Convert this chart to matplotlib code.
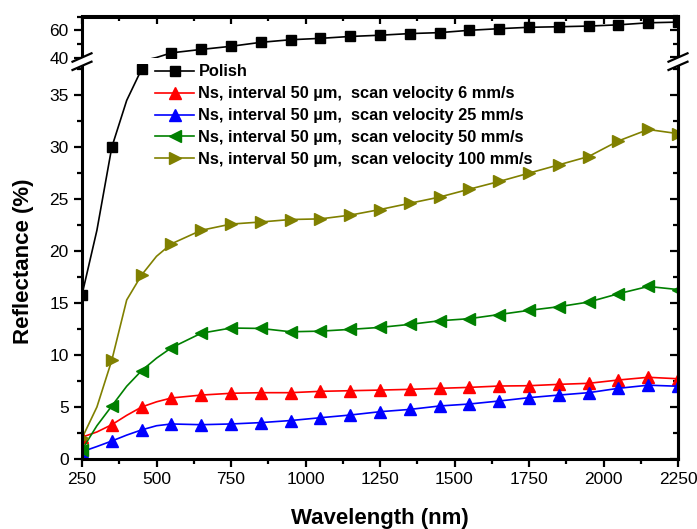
import numpy as np
import matplotlib
matplotlib.use('Agg')
import matplotlib.pyplot as plt
from matplotlib.lines import Line2D
from matplotlib.patches import Polygon
from matplotlib.ticker import MultipleLocator

plt.rcParams['font.family'] = ['Liberation Sans', 'DejaVu Sans']

# wavelength (nm); markers every 100 nm, extra points only for the line
wavelength = [250, 300, 350, 400, 450, 500, 550, 650, 750, 850, 950, 1050, 1150,
              1250, 1350, 1450, 1550, 1650, 1750, 1850, 1950, 2050, 2150, 2250]
marker_idx = [0, 2, 4] + list(range(6, 24))

polish = [15.8, 22.0, 30.0, 34.5, 37.5, 40.0, 43.4, 45.9, 48.2, 51.1, 53.0, 54.0,
          55.4, 56.3, 57.5, 58.2, 59.9, 61.1, 62.1, 62.5, 63.0, 63.9, 65.4, 65.9]
v6 = [2.1, 2.6, 3.3, 4.2, 5.0, 5.5, 5.87, 6.15, 6.32, 6.38, 6.38, 6.51,
      6.57, 6.63, 6.70, 6.80, 6.89, 7.02, 7.05, 7.18, 7.28, 7.6, 7.86, 7.72]
v25 = [0.7, 1.2, 1.73, 2.3, 2.8, 3.2, 3.37, 3.3, 3.37, 3.5, 3.7, 3.97,
       4.23, 4.55, 4.77, 5.1, 5.29, 5.58, 5.9, 6.15, 6.38, 6.8, 7.1, 7.0]
v50 = [0.9, 3.2, 5.1, 7.0, 8.5, 9.7, 10.7, 12.1, 12.6, 12.56, 12.24, 12.3,
       12.47, 12.66, 12.95, 13.3, 13.5, 13.9, 14.3, 14.65, 15.1, 15.9, 16.6, 16.3]
v100 = [2.0, 5.0, 9.5, 15.3, 17.7, 19.5, 20.7, 22.0, 22.6, 22.8, 23.04, 23.1,
        23.46, 24.0, 24.6, 25.2, 25.96, 26.7, 27.5, 28.3, 29.1, 30.6, 31.7, 31.3]

labels = ['Polish',
          'Ns, interval 50 \u00b5m,  scan velocity 6 mm/s',
          'Ns, interval 50 \u00b5m,  scan velocity 25 mm/s',
          'Ns, interval 50 \u00b5m,  scan velocity 50 mm/s',
          'Ns, interval 50 \u00b5m,  scan velocity 100 mm/s']
series = [polish, v6, v25, v50, v100]
colors = ['black', '#ff0000', '#0000ff', '#008000', '#808000']
markers = ['s', '^', '^', '<', '>']
msizes = [7, 8.5, 8.5, 8.5, 8.5]

W, H = 697, 529
fig = plt.figure(figsize=(W / 100, H / 100), dpi=100)

def fx(px):
    return px / W

def fy(py):
    return 1 - py / H

left, right = 82, 678
ax_lo = fig.add_axes([fx(left), fy(459), fx(right) - fx(left), fy(64) - fy(459)])
ax_hi = fig.add_axes([fx(left), fy(57.5), fx(right) - fx(left), fy(16.5) - fy(57.5)])

handles = []
for y, c, m, ms, lab in zip(series, colors, markers, msizes, labels):
    h, = ax_lo.plot(wavelength, y, color=c, lw=1.2, marker=m, ms=ms,
                    markevery=marker_idx, label=lab)
    handles.append(h)
# upper part of the broken axis: only Polish reaches it
ax_hi.plot(wavelength, polish, color='black', lw=1.2, marker='s', ms=7,
           markevery=list(range(6, 24)))

for ax in (ax_lo, ax_hi):
    ax.set_xlim(250, 2250)
    for s in ax.spines.values():
        s.set_linewidth(2.2)
    ax.xaxis.set_major_locator(MultipleLocator(250))
    ax.xaxis.set_minor_locator(MultipleLocator(125))
    ax.tick_params(which='major', length=6, width=1.6, labelsize=12.5, pad=3.5)
    ax.tick_params(which='minor', length=3.5, width=1.6)

ax_lo.set_ylim(0, 38)
ax_lo.yaxis.set_major_locator(MultipleLocator(5))
ax_lo.yaxis.set_minor_locator(MultipleLocator(2.5))
ax_lo.spines['top'].set_visible(False)
ax_lo.tick_params(which='both', direction='out', top=False, right=False)

ax_hi.set_ylim(40, 70)
ax_hi.set_yticks([40, 60])
ax_hi.yaxis.set_minor_locator(MultipleLocator(10))
ax_hi.spines['bottom'].set_visible(False)
ax_hi.tick_params(which='both', direction='out', bottom=False, labelbottom=False,
                  top=False, right=False)

# inward ticks on the right and top sides
r_lo = ax_lo.secondary_yaxis('right')
r_lo.yaxis.set_major_locator(MultipleLocator(5))
r_lo.yaxis.set_minor_locator(MultipleLocator(2.5))
r_hi = ax_hi.secondary_yaxis('right')
r_hi.set_yticks([40, 60])
r_hi.yaxis.set_minor_locator(MultipleLocator(10))
t_hi = ax_hi.secondary_xaxis('top')
t_hi.xaxis.set_major_locator(MultipleLocator(250))
t_hi.xaxis.set_minor_locator(MultipleLocator(125))
for sec in (r_lo, r_hi, t_hi):
    for s in sec.spines.values():
        s.set_linewidth(2.2)
    sec.tick_params(which='major', direction='in', length=6, width=1.6,
                    labelright=False, labeltop=False)
    sec.tick_params(which='minor', direction='in', length=3.5, width=1.6)

ax_lo.set_xlabel('Wavelength (nm)', fontsize=16, fontweight='bold', labelpad=15)
ax_lo.set_ylabel('Reflectance (%)', fontsize=16, fontweight='bold', labelpad=11)

leg = ax_lo.legend(handles=handles, loc='upper left', frameon=False,
                   bbox_to_anchor=(fx(155), fy(64.5)), bbox_transform=fig.transFigure,
                   borderpad=0, borderaxespad=0, handlelength=2.4,
                   handletextpad=0.25, labelspacing=0.42,
                   prop={'weight': 'bold', 'size': 11.8})

# axis break marks on both sides
for xc in (left, right):
    x0, x1 = xc - 9.5, xc + 9.5
    l1 = [(x0, 61.7), (x1, 53.3)]
    l2 = [(x0, 70.0), (x1, 61.7)]
    poly = Polygon([(fx(x), fy(y)) for x, y in l1 + l2[::-1]], closed=True,
                   transform=fig.transFigure, fc='white', ec='none', zorder=10)
    fig.add_artist(poly)
    for ln in (l1, l2):
        fig.add_artist(Line2D([fx(p[0]) for p in ln], [fy(p[1]) for p in ln],
                              transform=fig.transFigure, color='black', lw=1.6,
                              zorder=11))

fig.savefig('out.png', dpi=100)
